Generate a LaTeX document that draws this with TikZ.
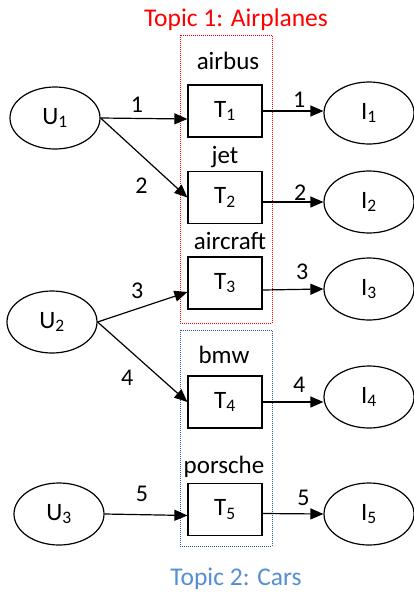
\documentclass[tikz,border=0pt]{standalone}
\usepackage{fontspec}
\setmainfont{Carlito}
\usetikzlibrary{arrows.meta,positioning,shapes.geometric}
\definecolor{TopicRed}{HTML}{FF0000}
\definecolor{TopicBlue}{HTML}{2F5597}
\definecolor{TopicSky}{HTML}{558ED5}

\begin{document}
\begin{tikzpicture}[
    x=1pt, y=-1pt,
    user/.style={
      draw,
      ellipse,
      line width=1.2pt,
      minimum width=90pt,
      minimum height=62pt,
      inner sep=0pt,
      font=\fontsize{25}{28}\selectfont
    },
    topic/.style={
      draw,
      rectangle,
      line width=1.2pt,
      minimum width=74pt,
      minimum height=52pt,
      inner sep=0pt,
      font=\fontsize{25}{28}\selectfont
    },
    word/.style={anchor=base, inner sep=0pt, font=\fontsize{25}{28}\selectfont},
    num/.style={inner sep=0pt, font=\fontsize{24}{28}\selectfont},
    group/.style={densely dotted, line width=1pt, minimum width=92pt, inner sep=0pt},
    head/.style={anchor=base, inner sep=0pt, font=\fontsize{25.5}{30}\selectfont},
    arr/.style={-{Triangle[length=13pt,width=11pt]}, line width=1.2pt}
  ]
    \useasboundingbox (0,0) rectangle (413,595);

    % topic groups
    \node[group, draw=TopicRed, minimum height=288pt] (planes) at (226,179) {};
    \node[group, draw=TopicBlue, minimum height=216pt] (cars) at (226,438) {};
    \node[head, text=TopicRed] (planestitle) at (236,26) {Topic 1: Airplanes};
    \node[head, text=TopicSky] (carstitle) at (236,585) {Topic 2: Cars};

    % users
    \node[user] (U1) at (55,118) {U\textsubscript{1}};
    \node[user] (U2) at (52,322) {U\textsubscript{2}};
    \node[user] (U3) at (59,514) {U\textsubscript{3}};

    % topics
    \node[topic] (T1) at (225,111) {T\textsubscript{1}};
    \node[topic] (T2) at (225,197.5) {T\textsubscript{2}};
    \node[topic] (T3) at (225,283) {T\textsubscript{3}};
    \node[topic] (T4) at (225,402) {T\textsubscript{4}};
    \node[topic] (T5) at (225,509.5) {T\textsubscript{5}};

    \node[word] (w1) at (228,69) {airbus};
    \node[word] (w2) at (225,163) {jet};
    \node[word] (w3) at (230,249) {aircraft};
    \node[word] (w4) at (224,363) {bmw};
    \node[word] (w5) at (224,473) {porsche};

    % items
    \node[user] (I1) at (369,113) {I\textsubscript{1}};
    \node[user] (I2) at (369,202) {I\textsubscript{2}};
    \node[user] (I3) at (369,289) {I\textsubscript{3}};
    \node[user] (I4) at (369,397) {I\textsubscript{4}};
    \node[user] (I5) at (369,514) {I\textsubscript{5}};

    % users to topics
    \draw[arr] (U1.east) -- ([yshift=-8pt]T1.west) node[num, pos=0.42, above=5pt] {1};
    \draw[arr] (U1.east) -- (T2.west) node[num, pos=0.47, below=22pt] {2};
    \draw[arr] (U2.east) -- ([yshift=-9pt]T3.west) node[num, pos=0.44, above=10pt] {3};
    \draw[arr] (U2.east) -- (T4.west) node[num, pos=0.33, below=21pt] {4};
    \draw[arr] (U3.east) -- ([yshift=-6pt]T5.west) node[num, pos=0.45, above=12pt] {5};

    % topics to items
    \draw[arr] (T1.east) -- (T1.east -| I1.west) node[num, pos=0.6, above=3pt] {1};
    \draw[arr] ([yshift=-4.5pt]T2.east) -- (I2.west) node[num, pos=0.62, above=1pt] {2};
    \draw[arr] ([yshift=-7pt]T3.east) -- (I3.west) node[num, pos=0.65, above=9pt] {3};
    \draw[arr] (T4.east) -- (T4.east -| I4.west) node[num, pos=0.6, above=9pt] {4};
    \draw[arr] ([yshift=-4pt]T5.east) -- (I5.west) node[num, pos=0.67, above=8pt] {5};
  \end{tikzpicture}
\end{document}
